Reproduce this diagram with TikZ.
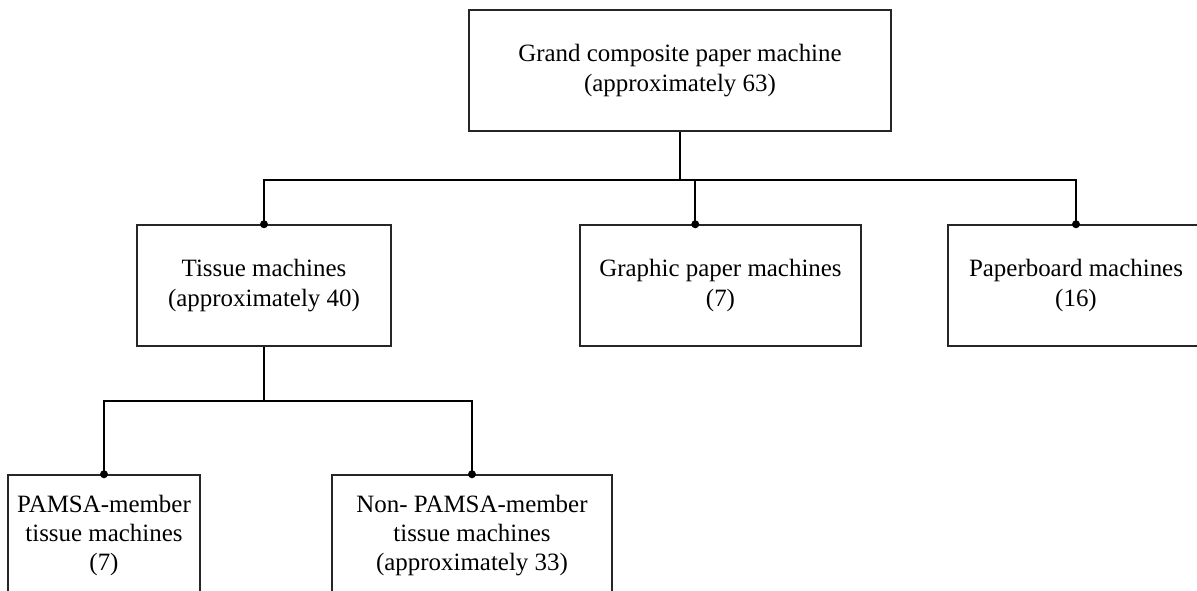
\documentclass[tikz,border=0pt]{standalone}
\usepackage{fontspec}
\setmainfont{Liberation Serif}
\usetikzlibrary{calc}
\begin{document}
\begin{tikzpicture}[x=0.75pt,y=-0.75pt,
  box/.style={draw=black!85, line width=1.1pt, inner sep=0pt, align=center,
    font=\fontsize{18.7pt}{22pt}\selectfont},
  conn/.style={draw=black, line width=1.6pt},
  jdot/.style={fill=black, circle, inner sep=0pt, minimum size=6pt}]
\useasboundingbox (0,0) rectangle (1197,591);
\clip (0,0) rectangle (1197,591);
\fill[white] (0,0) rectangle (1197,591);

\node[box, minimum width=316.5pt, minimum height=90.75pt] (top) at (680,70.5)
  {Grand composite paper machine\\(approximately 63)};
\node[box, minimum width=190.5pt, minimum height=90.75pt] (tissue) at (264,285.5)
  {Tissue machines\\(approximately 40)};
\node[box, minimum width=210.75pt, minimum height=90.75pt] (graphic) at (720.5,285.5)
  {Graphic paper machines\\(7)};
\node[box, minimum width=192pt, minimum height=90.75pt] (paper) at (1076,285.5)
  {Paperboard machines\\(16)};
\node[box, minimum width=144pt, minimum height=90.75pt] (pamsa) at (104,535.5)
  {PAMSA-member\\tissue machines\\(7)};
\node[box, minimum width=210pt, minimum height=90.75pt] (non) at (472,535.5)
  {Non- PAMSA-member\\tissue machines\\(approximately 33)};

% first level connectors
\coordinate (j1) at ($(top.south)+(0,48)$);
\coordinate (gtop) at ($(graphic.north west)+(116,0)$);
\draw[conn] (top.south) -- (j1);
\draw[conn] (tissue.north) |- (j1 -| paper.north) -- (paper.north);
\draw[conn] (j1 -| gtop) -- (gtop);
\node[jdot] (d1) at (tissue.north) {};
\node[jdot] (d2) at (gtop) {};
\node[jdot] (d3) at (paper.north) {};

% second level connectors
\coordinate (j2) at ($(tissue.south)+(0,54)$);
\draw[conn] (tissue.south) -- (j2);
\draw[conn] (pamsa.north) |- (j2 -| non.north) -- (non.north);
\node[jdot] (d4) at (pamsa.north) {};
\node[jdot] (d5) at (non.north) {};
\end{tikzpicture}
\end{document}
